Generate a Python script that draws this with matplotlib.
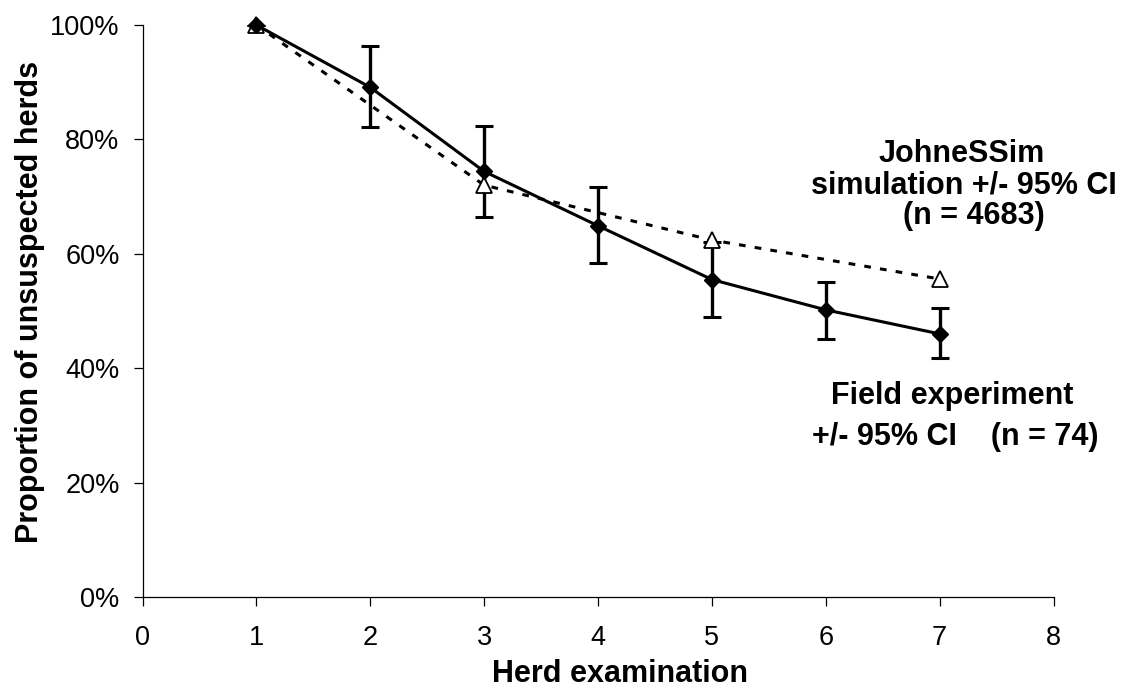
import matplotlib
matplotlib.use("Agg")
import matplotlib.pyplot as plt
from matplotlib.ticker import FuncFormatter

plt.rcParams['font.family'] = ['Liberation Sans', 'DejaVu Sans']

# Field experiment (n = 74)
field_x = [1, 2, 3, 4, 5, 6, 7]
field_y = [100.0, 89.1, 74.4, 64.9, 55.5, 50.2, 46.0]
field_lo = [100.0, 82.2, 66.4, 58.4, 49.0, 45.1, 41.7]
field_hi = [100.0, 96.4, 82.4, 71.6, 62.0, 55.1, 50.5]

# JohneSSim simulation (n = 4683)
sim_x = [1, 3, 5, 7]
sim_y = [100.0, 72.0, 62.4, 55.6]
sim_ci = [0.0, 0.6, 0.6, 0.6]

x_ticks = [0, 1, 2, 3, 4, 5, 6, 7, 8]
y_ticks = [0, 20, 40, 60, 80, 100]

W, H = 1130, 688
fig = plt.figure(figsize=(W / 100, H / 100), dpi=100)
ax = fig.add_axes([142.5 / W, 1 - 597 / H, (1053.5 - 142.5) / W, (597 - 25) / H])

err_lo = [y - l for y, l in zip(field_y, field_lo)]
err_hi = [h - y for y, h in zip(field_y, field_hi)]

# simulation dashed line + tiny CI
ax.errorbar(sim_x, sim_y, yerr=sim_ci, color='black', lw=2.2, ls=(0, (2.2, 3.0)),
            elinewidth=1.5, capsize=0, zorder=2)
# field solid line + CI
ax.errorbar(field_x, field_y, yerr=[err_lo, err_hi], color='black', lw=2.2,
            elinewidth=2.4, capsize=6.5, capthick=2.2, zorder=2)
# markers
ax.plot(sim_x, sim_y, ls='none', marker='^', ms=11.5, mfc='white', mec='black',
        mew=1.3, zorder=3, clip_on=False)
ax.plot(field_x, field_y, ls='none', marker='D', ms=8.5, mfc='black', mec='black',
        zorder=4, clip_on=False)

ax.set_xlim(0, 8)
ax.set_ylim(0, 100)
ax.set_xticks(x_ticks)
ax.set_yticks(y_ticks)
ax.yaxis.set_major_formatter(FuncFormatter(lambda v, p: f"{v:.0f}%"))

for s in ['top', 'right']:
    ax.spines[s].set_visible(False)
for s in ['left', 'bottom']:
    ax.spines[s].set_linewidth(0.9)
ax.tick_params(axis='both', direction='out', length=6.5, width=0.9, labelsize=19.5)
ax.tick_params(axis='x', pad=14)
ax.tick_params(axis='y', pad=10)

fig.text(620 / W, 1 - 674 / H, "Herd examination", ha='center', va='center',
         fontsize=22, fontweight='bold')
fig.text(30 / W, 1 - 302 / H, "Proportion of unsuspected herds", ha='center', va='center',
         rotation=90, fontsize=22, fontweight='bold')

sim_lines = ["JohneSSim", "simulation +/- 95% CI", "(n = 4683)"]
sim_pos = [(962, 154), (964, 186), (974, 216)]
for t, (px, py) in zip(sim_lines, sim_pos):
    fig.text(px / W, 1 - py / H, t, ha='center', va='center', fontsize=22, fontweight='bold')

field_lines = ["Field experiment", "+/- 95% CI    (n = 74)"]
field_pos = [(952, 396), (955, 437)]
for t, (px, py) in zip(field_lines, field_pos):
    fig.text(px / W, 1 - py / H, t, ha='center', va='center', fontsize=22, fontweight='bold')

fig.savefig("out.png", dpi=100)
